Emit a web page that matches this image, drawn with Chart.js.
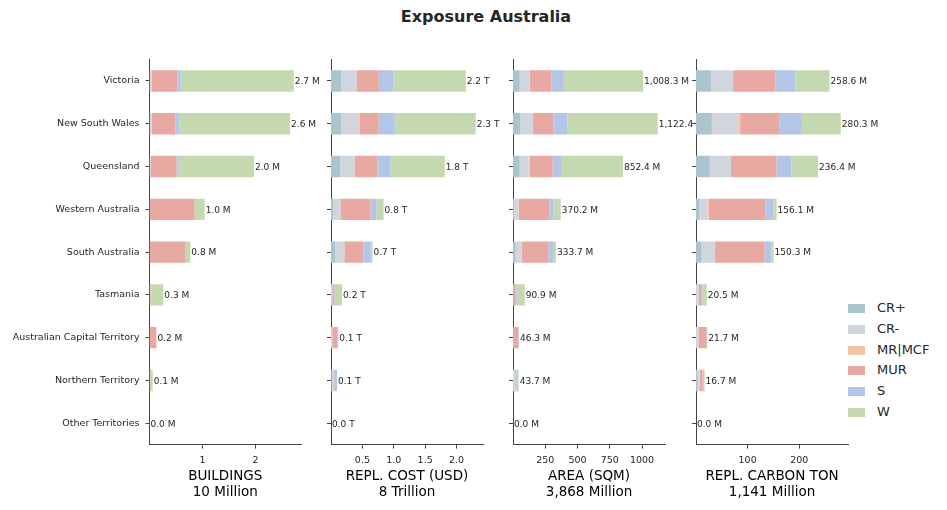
<!DOCTYPE html>
<html>
<head>
<meta charset="utf-8">
<title>Exposure Australia</title>
<script src="https://cdn.jsdelivr.net/npm/chart.js@4.4.0/dist/chart.umd.min.js"></script>
<style>
  body { margin: 0; background: #fff; font-family: "DejaVu Sans", sans-serif; }
  #page { position: relative; width: 947px; height: 510px; overflow: hidden; }
  #title { position: absolute; left: 0; width: 972px; top: 7px; text-align: center;
           font-weight: bold; font-size: 16px; color: #262626; }
  canvas { position: absolute; top: 0; }
  #legend { position: absolute; left: 837px; top: 298px; font-size: 13px; color: #262626; }
  .row { position: relative; height: 20.8px; }
  .swatch { position: absolute; left: 0; top: 6px; width: 28px; height: 9px; }
  .name { position: absolute; left: 40px; top: 2px; line-height: 16px; }
</style>
</head>
<body>
<div id="page">
  <div id="title">Exposure Australia</div>
  <div id="legend"></div>
</div>
<script>
// categories (top to bottom)
const regions = ["Victoria", "New South Wales", "Queensland", "Western Australia", "South Australia",
                 "Tasmania", "Australian Capital Territory", "Northern Territory", "Other Territories"];

// series, in stacking order
const seriesNames = ["CR+", "CR-", "MR|MCF", "MUR", "S", "W"];
const seriesColours = ["#abc5cf", "#d1d5dd", "#f5c4a6", "#e8a9a2", "#b3c6e8", "#c5d9b0"];

// BUILDINGS, millions - one row per series
const buildingsCRplus = [0, 0, 0, 0, 0, 0, 0, 0, 0];
const buildingsCRminus = [0.04, 0.04, 0.02, 0, 0, 0, 0, 0, 0];
const buildingsMR = [0, 0, 0, 0, 0, 0, 0, 0, 0];
const buildingsMUR = [0.49, 0.45, 0.49, 0.85, 0.68, 0.02, 0.13, 0.02, 0];
const buildingsS = [0.06, 0.07, 0.04, 0, 0, 0.02, 0, 0, 0];
const buildingsW = [2.13, 2.09, 1.42, 0.19, 0.09, 0.22, 0, 0.04, 0];
const buildingsLabels = ["2.7 M", "2.6 M", "2.0 M", "1.0 M", "0.8 M", "0.3 M", "0.2 M", "0.1 M", "0.0 M"];
const buildingsTicks = [1, 2];

// REPL. COST, trillions USD
const costCRplus = [0.165, 0.165, 0.15, 0.037, 0.069, 0, 0, 0.01, 0];
const costCRminus = [0.24, 0.27, 0.224, 0.112, 0.144, 0.02, 0.02, 0.027, 0];
const costMR = [0, 0.016, 0, 0, 0, 0, 0, 0, 0];
const costMUR = [0.357, 0.31, 0.367, 0.48, 0.304, 0.03, 0.08, 0.016, 0];
const costS = [0.235, 0.255, 0.208, 0.096, 0.117, 0.01, 0.016, 0.043, 0];
const costW = [1.15, 1.29, 0.863, 0.112, 0.027, 0.117, 0, 0, 0];
const costLabels = ["2.2 T", "2.3 T", "1.8 T", "0.8 T", "0.7 T", "0.2 T", "0.1 T", "0.1 T", "0.0 T"];
const costTicks = [0.5, 1, 1.5, 2];

// AREA, million sqm
const areaCRplus = [52, 59, 52, 8, 21, 0, 0, 0, 0];
const areaCRminus = [77, 93, 70, 36, 46, 0, 0, 13, 0];
const areaMR = [0, 0, 8, 0, 0, 0, 0, 0, 0];
const areaMUR = [170, 163, 178, 240, 207, 15, 41, 8, 0];
const areaS = [95, 108, 70, 31, 36, 13, 5, 8, 0];
const areaW = [614, 699, 474, 55, 23, 63, 0, 15, 0];
const areaLabels = ["1,008.3 M", "1,122.4 M", "852.4 M", "370.2 M", "333.7 M", "90.9 M", "46.3 M", "43.7 M", "0.0 M"];
const areaTicks = [250, 500, 750, 1000];

// REPL. CARBON, million ton
const carbonCRplus = [28.8, 30.7, 26.8, 7, 11, 0, 0, 3.3, 0];
const carbonCRminus = [43, 51, 41, 15.7, 25.5, 5, 5, 3.9, 0];
const carbonMR = [0, 3.9, 0, 2, 0, 0, 0, 0, 0];
const carbonMUR = [82.4, 76.5, 88, 109.8, 96.2, 6, 15.4, 5.9, 0];
const carbonS = [38, 43, 29.4, 15.7, 13.7, 1.3, 1.3, 2, 0];
const carbonW = [66.4, 75.2, 51.2, 5.9, 3.9, 8.5, 0, 1.6, 0];
const carbonLabels = ["258.6 M", "280.3 M", "236.4 M", "156.1 M", "150.3 M", "20.5 M", "21.7 M", "16.7 M", "0.0 M"];
const carbonTicks = [100, 200];

const FONT = "'DejaVu Sans', sans-serif";
const TEXT = "#262626";
const SPINE = "#444";
Chart.defaults.font.family = FONT;

// each panel: its data plus where its plot box sits on the page
const panels = [
  { values: [buildingsCRplus, buildingsCRminus, buildingsMR, buildingsMUR, buildingsS, buildingsW],
    labels: buildingsLabels, ticks: buildingsTicks, digits: 0,
    title: ["BUILDINGS", "10 Million"], left: 149.5, yWidth: 149.5, showNames: true },
  { values: [costCRplus, costCRminus, costMR, costMUR, costS, costW],
    labels: costLabels, ticks: costTicks, digits: 1,
    title: ["REPL. COST (USD)", "8 Trillion"], left: 331, yWidth: 12, showNames: false },
  { values: [areaCRplus, areaCRminus, areaMR, areaMUR, areaS, areaW],
    labels: areaLabels, ticks: areaTicks, digits: 0,
    title: ["AREA (SQM)", "3,868 Million"], left: 513, yWidth: 12, showNames: false },
  { values: [carbonCRplus, carbonCRminus, carbonMR, carbonMUR, carbonS, carbonW],
    labels: carbonLabels, ticks: carbonTicks, digits: 0,
    title: ["REPL. CARBON TON", "1,141 Million"], left: 695.5, yWidth: 12, showNames: false }
];

const PLOT_W = 152;     // width of each plot box
const PLOT_TOP = 59.6;  // top of plot boxes
const PLOT_BOTTOM = 444.6;
const H = 510;

// white plot background, so a later panel covers text spilling from the one before
const whiteArea = {
  id: "whiteArea",
  beforeDraw(chart) {
    const a = chart.chartArea;
    chart.ctx.save();
    chart.ctx.fillStyle = "#fff";
    chart.ctx.fillRect(a.left, a.top, a.right - a.left, a.bottom - a.top);
    chart.ctx.restore();
  }
};

// total label at the end of each stacked bar
const totalLabels = {
  id: "totalLabels",
  afterDatasetsDraw(chart, args, opts) {
    const ctx = chart.ctx;
    const xs = chart.scales.x, ys = chart.scales.y;
    ctx.save();
    ctx.font = "9px " + FONT;
    ctx.fillStyle = TEXT;
    ctx.textBaseline = "middle";
    ctx.textAlign = "left";
    chart.data.labels.forEach((r, i) => {
      let total = 0;
      chart.data.datasets.forEach(ds => { total += ds.data[i]; });
      ctx.fillText(opts.text[i], xs.getPixelForValue(total) + 1, ys.getPixelForValue(i) + 1);
    });
    ctx.restore();
  }
};

const page = document.getElementById("page");

panels.forEach(p => {
  const canvas = document.createElement("canvas");
  const rightPad = 60;
  canvas.width = p.yWidth + PLOT_W + rightPad;
  canvas.height = H;
  canvas.style.left = (p.left - p.yWidth) + "px";
  page.appendChild(canvas);

  // largest stacked total, plus matplotlib's 5% margin
  let maxTotal = 0;
  regions.forEach((r, i) => {
    let t = 0;
    p.values.forEach(s => { t += s[i]; });
    if (t > maxTotal) maxTotal = t;
  });

  new Chart(canvas, {
    type: "bar",
    data: {
      labels: regions,
      datasets: seriesNames.map((name, s) => ({
        label: name,
        data: p.values[s],
        backgroundColor: seriesColours[s],
        borderWidth: 0,
        barPercentage: 0.5,
        categoryPercentage: 1
      }))
    },
    options: {
      responsive: false,
      animation: false,
      indexAxis: "y",
      layout: { padding: { top: PLOT_TOP, right: rightPad, bottom: 0, left: 0 } },
      plugins: {
        legend: { display: false },
        tooltip: { enabled: false },
        totalLabels: { text: p.labels }
      },
      scales: {
        x: {
          stacked: true,
          min: 0,
          max: maxTotal * 1.05,
          afterBuildTicks: scale => { scale.ticks = p.ticks.map(v => ({ value: v })); },
          afterFit: scale => { scale.height = H - PLOT_BOTTOM; },
          grid: { drawOnChartArea: false, drawTicks: true, tickLength: 4, color: SPINE },
          border: { display: true, color: SPINE, width: 1 },
          ticks: {
            font: { size: 9.5 }, color: TEXT, padding: 6, maxRotation: 0, autoSkip: false,
            callback: v => v.toFixed(p.digits)
          },
          title: {
            display: true, text: p.title, color: "#000",
            font: { size: 13.5, lineHeight: 1.15 },
            padding: { top: 0, bottom: 10 }
          }
        },
        y: {
          stacked: true,
          afterFit: scale => { scale.width = p.yWidth; },
          grid: { drawOnChartArea: false, drawTicks: true, tickLength: 4, color: SPINE, offset: false },
          border: { display: true, color: SPINE, width: 1 },
          ticks: {
            font: { size: 9.5 }, color: TEXT, padding: 6, autoSkip: false,
            callback: (v, i) => p.showNames ? regions[i] : ""
          }
        }
      }
    },
    plugins: [whiteArea, totalLabels]
  });
});

// legend on the right
const legend = document.getElementById("legend");
seriesNames.forEach((name, s) => {
  const row = document.createElement("div");
  row.className = "row";
  row.innerHTML = '<div class="swatch" style="background:' + seriesColours[s] + '"></div><div class="name"></div>';
  row.querySelector(".name").textContent = name;
  legend.appendChild(row);
});
</script>
</body>
</html>
